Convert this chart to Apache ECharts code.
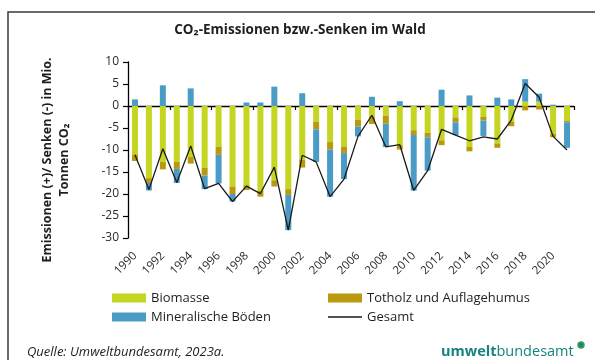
<!DOCTYPE html>
<html>
<head>
<meta charset="utf-8">
<script src="https://cdn.jsdelivr.net/npm/echarts@6/dist/echarts.min.js"></script>
<style>
  html, body { margin: 0; padding: 0; background: #ffffff; }
  #chart { width: 595px; height: 360px; }
</style>
</head>
<body>
<div id="chart"></div>
<script>
// Jahre 1990–2021
const years = ['1990','1991','1992','1993','1994','1995','1996','1997','1998','1999',
  '2000','2001','2002','2003','2004','2005','2006','2007','2008','2009',
  '2010','2011','2012','2013','2014','2015','2016','2017','2018','2019','2020','2021'];

// Mio. t CO2 je Pool
const biomasse = [-11.0, -16.4, -12.7, -12.7, -11.6, -14.0, -9.3, -18.3, -18.0, -19.3,
  -16.9, -18.9, -12.2, -3.6, -8.2, -9.2, -3.1, -2.4, -2.2, -8.9,
  -5.5, -6.1, -7.8, -2.6, -9.3, -2.5, -8.5, -3.6, 1.0, 1.0, -6.3, -3.3];
const totholz = [-1.5, -1.1, -1.7, -1.6, -1.5, -1.8, -1.8, -1.7, -1.1, -1.3,
  -1.4, -1.3, -1.8, -1.7, -1.7, -1.5, -1.6, -1.7, -1.8, -1.0,
  -1.1, -1.0, -1.1, -1.1, -1.0, -0.8, -1.0, -1.0, -1.0, -0.8, -0.8, -0.4];
const mineralboeden = [1.5, -1.7, 4.7, -3.2, 4.0, -3.1, -6.5, -1.7, 0.8, 0.8,
  4.4, -8.0, 2.9, -7.4, -10.7, -5.9, -2.2, 2.1, -5.3, 1.1,
  -12.6, -7.6, 3.7, -2.9, 2.4, -3.5, 1.9, 1.5, 5.1, 1.8, 0.3, -5.8];
const gesamt = [-11.1, -19.0, -9.7, -17.4, -9.1, -18.8, -17.6, -21.7, -18.2, -19.9,
  -13.9, -28.2, -11.2, -12.7, -20.6, -16.6, -6.9, -2.1, -9.3, -8.8,
  -19.2, -14.7, -5.3, -6.6, -7.9, -7.0, -7.5, -3.2, 5.1, 2.0, -6.9, -10.0];

const FONT = 'Open Sans';
const TXT = '#1e1e1e';

const chart = echarts.init(document.getElementById('chart'), null, { renderer: 'canvas' });

const legendText = { fontSize: 13, fontFamily: FONT, color: TXT, lineHeight: 16 };

chart.setOption({
  animation: false,
  backgroundColor: '#ffffff',
  textStyle: { fontFamily: FONT, color: TXT },
  grid: { left: 128, right: 21, top: 62, bottom: 122, containLabel: false },
  xAxis: [
    {
      type: 'category',
      data: years,
      axisLine: { onZero: true, lineStyle: { color: '#000', width: 1.3 } },
      axisTick: { show: true, length: 4, lineStyle: { color: '#000', width: 1.2 } },
      axisLabel: { show: false },
      splitLine: { show: false }
    },
    {
      type: 'category',
      data: years,
      position: 'bottom',
      axisLine: { show: false, onZero: false },
      axisTick: { show: false },
      splitLine: { show: false },
      axisLabel: {
        interval: 1,
        rotate: 45,
        margin: 16,
        fontSize: 11.5,
        fontFamily: FONT,
        color: '#2a2a2a'
      }
    }
  ],
  yAxis: {
    type: 'value',
    min: -30,
    max: 10,
    interval: 5,
    axisLine: { show: true, lineStyle: { color: '#000', width: 1.3 } },
    axisTick: { show: true, length: 5, lineStyle: { color: '#000', width: 1.2 } },
    splitLine: { show: false },
    axisLabel: { fontSize: 12, fontFamily: FONT, color: '#2a2a2a', margin: 9 }
  },
  legend: [
    {
      orient: 'vertical',
      left: 112,
      top: 290,
      padding: 0,
      icon: 'rect',
      itemWidth: 34,
      itemHeight: 9,
      itemGap: 3,
      textStyle: legendText,
      data: ['Biomasse', 'Mineralische Böden']
    },
    {
      orient: 'vertical',
      left: 328,
      top: 290,
      padding: 0,
      itemWidth: 34,
      itemHeight: 9,
      itemGap: 3,
      textStyle: legendText,
      data: [
        { name: 'Totholz und Auflagehumus', icon: 'rect' },
        { name: 'Gesamt', icon: 'path://M0,0 H34 V1.3 H0 Z', itemStyle: { color: '#1a1a1a' } }
      ]
    }
  ],
  series: [
    {
      name: 'Biomasse',
      type: 'bar',
      stack: 'pool',
      barWidth: 6,
      data: biomasse,
      itemStyle: { color: '#c4d622' }
    },
    {
      name: 'Totholz und Auflagehumus',
      type: 'bar',
      stack: 'pool',
      barWidth: 6,
      data: totholz,
      itemStyle: { color: '#b99a0e' }
    },
    {
      name: 'Mineralische Böden',
      type: 'bar',
      stack: 'pool',
      barWidth: 6,
      data: mineralboeden,
      itemStyle: { color: '#4a9cc6' }
    },
    {
      name: 'Gesamt',
      type: 'line',
      data: gesamt,
      symbol: 'none',
      z: 5,
      lineStyle: { color: '#1a1a1a', width: 1.3 },
      itemStyle: { color: '#1a1a1a' }
    }
  ],
  graphic: [
    {
      type: 'rect',
      shape: { x: 8, y: 12, width: 640, height: 400 },
      style: { fill: 'none', stroke: '#3a3a3a', lineWidth: 1.5 },
      silent: true,
      z: 100
    },
    {
      type: 'text',
      x: 300,
      y: 30,
      style: {
        text: 'CO₂-Emissionen bzw.-Senken im Wald',
        font: 'bold 13.5px "Open Sans"',
        fill: TXT,
        align: 'center',
        verticalAlign: 'middle'
      }
    },
    {
      // Achsentitel der Werteachse, zweizeilig und gedreht
      type: 'text',
      x: 55.5,
      y: 160,
      rotation: Math.PI / 2,
      style: {
        text: 'Emissionen (+)/ Senken (-) in Mio.\nTonnen CO₂',
        font: 'bold 12.5px "Open Sans"',
        fill: TXT,
        align: 'center',
        verticalAlign: 'middle',
        lineHeight: 17
      }
    },
    {
      type: 'text',
      x: 27,
      y: 352,
      style: {
        text: 'Quelle: Umweltbundesamt, 2023a.',
        font: 'italic 13px "Open Sans"',
        fill: TXT,
        align: 'left',
        verticalAlign: 'middle'
      }
    },
    {
      type: 'text',
      x: 441,
      y: 352,
      style: {
        text: '{a|umwelt}{b|bundesamt}',
        align: 'left',
        verticalAlign: 'middle',
        rich: {
          a: { font: 'bold 14.5px "Open Sans"', fill: '#16847e' },
          b: { font: '14.5px "Open Sans"', fill: '#16847e' }
        }
      }
    },
    {
      type: 'circle',
      shape: { cx: 581, cy: 345, r: 3 },
      style: { fill: '#16847e', stroke: '#3aa35a', lineWidth: 1.5 }
    }
  ]
});
</script>
</body>
</html>
